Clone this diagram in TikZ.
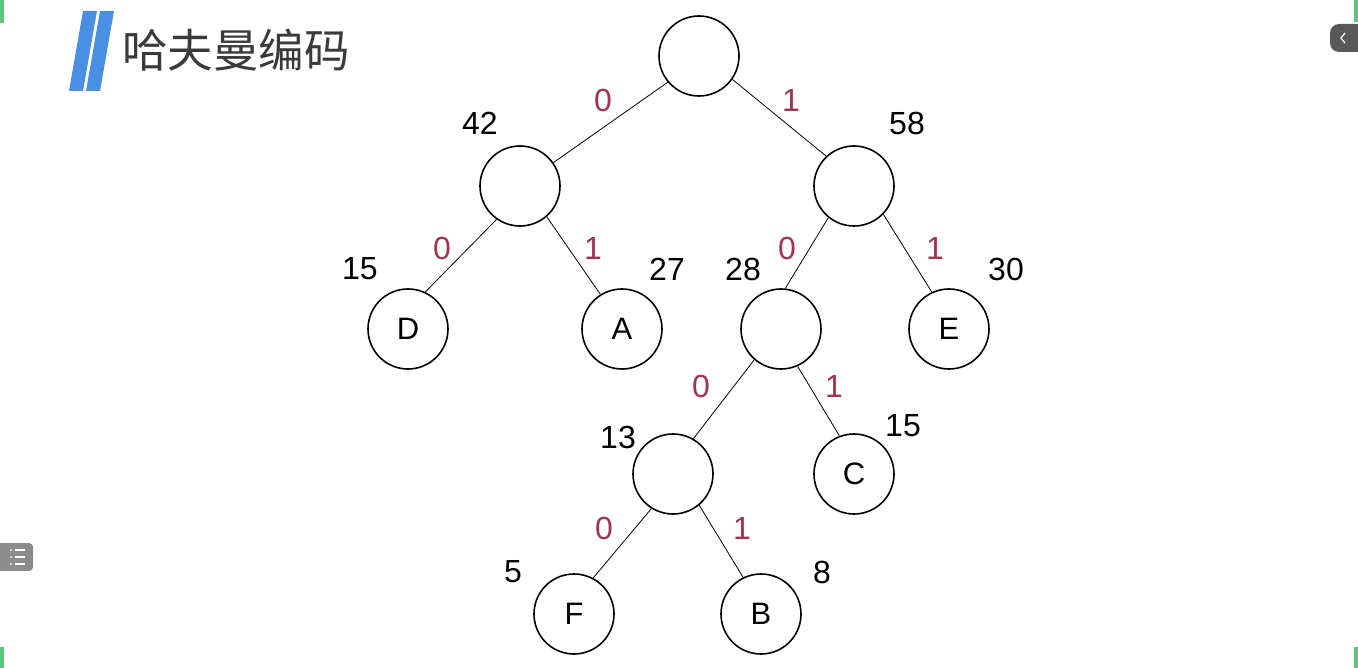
\documentclass[tikz,border=0pt]{standalone}
\usepackage{fontspec}
\setmainfont{Liberation Sans}
\newfontfamily\cjk{Noto Sans CJK SC}
\definecolor{edgered}{HTML}{A3344F}
\definecolor{barblue}{HTML}{4A90E2}
\definecolor{titlegray}{HTML}{3A3A3A}
\definecolor{sidegreen}{HTML}{5DC77F}
\begin{document}
\begin{tikzpicture}[x=1pt,y=-1pt,
  tnode/.style={circle,draw=black,line width=1.6pt,minimum size=80pt,inner sep=0pt,font=\fontsize{31}{31}\selectfont},
  wlabel/.style={font=\fontsize{32}{32}\selectfont,text=black},
  blabel/.style={font=\fontsize{32}{32}\selectfont,text=edgered},
  link/.style={draw=black,line width=0.8pt}]
\useasboundingbox[fill=white] (0,0) rectangle (1358,668);
% screenshot decorations
\fill[sidegreen] (0,0) rectangle (4,23);
\fill[sidegreen] (0,647) rectangle (4,668);
\fill[sidegreen] (1354,0) rectangle (1358,22);
\fill[sidegreen] (1354,647) rectangle (1358,668);
\fill[black!65,rounded corners=9pt] (1330,24) rectangle (1370,52);
\draw[white,line width=1.2pt] (1345,33) -- (1341,38) -- (1345,43);
\fill[black!45,rounded corners=4pt] (-10,543) rectangle (33,571);
\foreach \yy in {550,557,564}{
  \fill[white] (11,\yy) circle (1pt);
  \draw[white,line width=1.2pt] (15,\yy) -- (25,\yy);
}
% title
\fill[barblue] (83,11) -- (97,11) -- (83,91) -- (69,91) -- cycle;
\fill[barblue] (100,11) -- (114,11) -- (100,91) -- (86,91) -- cycle;
\node[anchor=west,inner sep=0pt,text=titlegray,font=\cjk\fontsize{45.5}{45.5}\selectfont] (title) at (122,50) {哈夫曼编码};
% tree nodes
\node[tnode] (r) at (699,56) {};
\node[tnode] (n42) at (520,186) {};
\node[tnode] (n58) at (854,186) {};
\node[tnode] (D) at (408,329) {D};
\node[tnode] (A) at (622,329) {A};
\node[tnode] (n28) at (781,329) {};
\node[tnode] (E) at (949,329) {E};
\node[tnode] (n13) at (673,474) {};
\node[tnode] (C) at (854,474) {C};
\node[tnode] (F) at (574,614) {F};
\node[tnode] (B) at (761,614) {B};
% edges
\draw[link] (r.220) -- (n42.35);
\draw[link] (r.325) -- (n58.133);
\draw[link] (n42.235) -- (D.65);
\draw[link] (n42.311) -- (A.122);
\draw[link] (n58.231) -- (n28.84);
\draw[link] (n58.316) -- (E.115);
\draw[link] (n28.229) -- (n13.60);
\draw[link] (n28.294) -- (C.111);
\draw[link] (n13.238) -- (F.62);
\draw[link] (n13.310) -- (B.116);
% weights
\node[wlabel] (w42) at (480,123) {42};
\node[wlabel] (w58) at (907,123) {58};
\node[wlabel] (w15a) at (360,269) {15};
\node[wlabel] (w27) at (667,269) {27};
\node[wlabel] (w28) at (743,269) {28};
\node[wlabel] (w30) at (1006,269) {30};
\node[wlabel] (w13) at (618,437) {13};
\node[wlabel] (w15b) at (903,426) {15};
\node[wlabel] (w5) at (513,572) {5};
\node[wlabel] (w8) at (822,572) {8};
% bit labels
\node[blabel] (b1) at (603,100) {0};
\node[blabel] (b2) at (791,100) {1};
\node[blabel] (b3) at (442,248) {0};
\node[blabel] (b4) at (593,248) {1};
\node[blabel] (b5) at (787,248) {0};
\node[blabel] (b6) at (935,248) {1};
\node[blabel] (b7) at (701,386) {0};
\node[blabel] (b8) at (834,386) {1};
\node[blabel] (b9) at (604,528) {0};
\node[blabel] (b10) at (742,528) {1};
\end{tikzpicture}
\end{document}
